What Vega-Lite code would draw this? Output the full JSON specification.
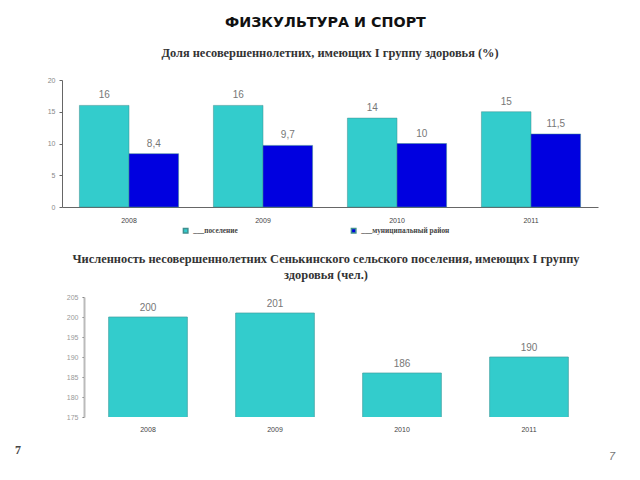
{"$schema":"https://vega.github.io/schema/vega-lite/v6.json","autosize":{"type":"pad"},"padding":{"left":15,"top":16,"right":0,"bottom":0},"background":"white","config":{"view":{"stroke":null},"axis":{"grid":false,"title":null}},"bounds":"full","title":{"text":"ФИЗКУЛЬТУРА И СПОРТ","font":"DejaVu Sans","fontWeight":"bold","fontSize":14.3,"color":"#111111","anchor":"start","frame":"group","dx":163,"offset":16},"spacing":10,"vconcat":[{"bounds":"flush","spacing":90,"vconcat":[{"width":536,"height":127,"title":{"text":"Доля несовершеннолетних, имеющих I группу здоровья (%)","font":"Liberation Serif","fontWeight":"bold","fontSize":12.4,"color":"#333333","anchor":"middle","offset":17},"data":{"values":[{"year":"2008","series":"___поселение","value":16,"label":"16"},{"year":"2008","series":"___муниципальный район","value":8.4,"label":"8,4"},{"year":"2009","series":"___поселение","value":16,"label":"16"},{"year":"2009","series":"___муниципальный район","value":9.7,"label":"9,7"},{"year":"2010","series":"___поселение","value":14,"label":"14"},{"year":"2010","series":"___муниципальный район","value":10,"label":"10"},{"year":"2011","series":"___поселение","value":15,"label":"15"},{"year":"2011","series":"___муниципальный район","value":11.5,"label":"11,5"}]},"encoding":{"x":{"field":"year","type":"nominal","scale":{"paddingInner":0.26,"paddingOuter":0.13},"axis":{"labelAngle":0,"labelFont":"Liberation Sans","labelFontSize":7,"labelColor":"#444444","domainColor":"#666666","tickColor":"#666666","ticks":false,"labelPadding":9}},"xOffset":{"field":"series","type":"nominal","sort":["___поселение","___муниципальный район"]},"y":{"field":"value","type":"quantitative","scale":{"domain":[0,20]},"axis":{"values":[0,5,10,15,20],"labelFont":"Liberation Sans","labelFontSize":7,"labelColor":"#888888","domainColor":"#666666","tickColor":"#666666","tickSize":3,"labelPadding":4}}},"layer":[{"mark":{"type":"bar","stroke":"#3f8f8f","strokeWidth":0.5},"encoding":{"color":{"field":"series","type":"nominal","scale":{"domain":["___поселение","___муниципальный район"],"range":["#33CCCC","#0000E0"]},"legend":{"orient":"none","legendX":120,"legendY":147,"direction":"horizontal","columns":2,"title":null,"symbolType":"square","symbolSize":20,"labelFont":"Liberation Serif","labelFontWeight":"bold","labelFontSize":7.3,"labelColor":"#444444","columnPadding":110}}}},{"mark":{"type":"text","dy":-10,"font":"Liberation Sans","fontSize":10,"color":"#777777"},"encoding":{"text":{"field":"label","type":"nominal"}}}]},{"width":536,"height":120,"title":{"text":["Численность несовершеннолетних Сенькинского сельского поселения, имеющих I группу","здоровья (чел.)"],"font":"Liberation Serif","fontWeight":"bold","fontSize":12.4,"color":"#333333","anchor":"middle","dx":-4,"offset":12,"lineHeight":16},"data":{"values":[{"year":"2008","value":200,"label":"200"},{"year":"2009","value":201,"label":"201"},{"year":"2010","value":186,"label":"186"},{"year":"2011","value":190,"label":"190"}]},"encoding":{"x":{"field":"year","type":"nominal","scale":{"range":[22.5,530.5],"paddingInner":0.38,"paddingOuter":0.19},"axis":{"labelAngle":0,"labelFont":"Liberation Sans","labelFontSize":7,"labelColor":"#444444","domain":false,"ticks":false,"labelPadding":8}},"y":{"field":"value","type":"quantitative","scale":{"domain":[175,205],"zero":false},"axis":{"values":[175,180,185,190,195,200,205],"labelFont":"Liberation Sans","labelFontSize":7,"labelColor":"#999999","domainColor":"#BBBBBB","domainWidth":2,"tickColor":"#777777","tickSize":2,"offset":-22,"labelPadding":4}}},"layer":[{"mark":{"type":"bar","color":"#33CCCC","stroke":"#3f9f9f","strokeWidth":0.7,"clip":true}},{"mark":{"type":"text","dy":-9,"font":"Liberation Sans","fontSize":10,"color":"#777777"},"encoding":{"text":{"field":"label","type":"nominal"}}}]}]},{"width":536,"height":20,"data":{"values":[{"pos":0,"row":1,"label":"7","kind":"left"},{"pos":1,"row":0,"label":"7","kind":"right"}]},"layer":[{"transform":[{"filter":"datum.kind == 'left'"}],"mark":{"type":"text","font":"Liberation Serif","fontWeight":"bold","fontSize":12,"color":"#444444"}},{"transform":[{"filter":"datum.kind == 'right'"}],"mark":{"type":"text","font":"Liberation Sans","fontStyle":"italic","fontSize":11,"color":"#777777"}}],"encoding":{"x":{"field":"pos","type":"quantitative","scale":{"domain":[0,1],"range":[-44,550]},"axis":null},"y":{"field":"row","type":"quantitative","scale":{"domain":[0,1],"range":[15,8]},"axis":null},"text":{"field":"label","type":"nominal"}}}]}
